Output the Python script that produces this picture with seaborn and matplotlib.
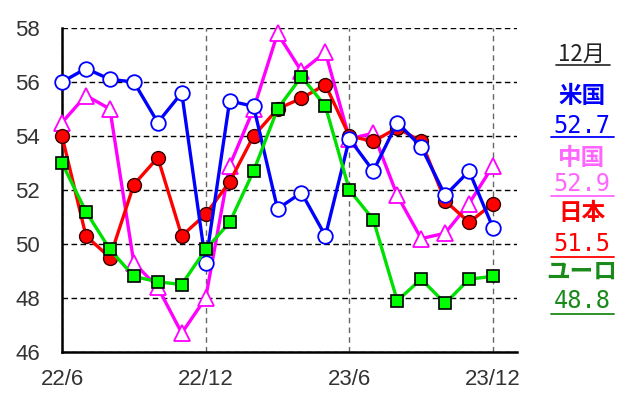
import matplotlib
matplotlib.use("Agg")
import matplotlib.pyplot as plt
from matplotlib.lines import Line2D
import seaborn as sns
import pandas as pd

# Monthly services PMI, 2022/6 .. 2023/12
months = list(range(19))
tick_pos = [0, 6, 12, 18]
tick_labels = ["22/6", "22/12", "23/6", "23/12"]

us = [56.0, 56.5, 56.1, 56.0, 54.5, 55.6, 49.3, 55.3, 55.1, 51.3, 51.9, 50.3,
      53.9, 52.7, 54.5, 53.6, 51.8, 52.7, 50.6]
cn = [54.5, 55.5, 55.0, 49.3, 48.4, 46.7, 48.0, 52.9, 55.0, 57.8, 56.4, 57.1,
      53.9, 54.1, 51.8, 50.2, 50.4, 51.5, 52.9]
jp = [54.0, 50.3, 49.5, 52.2, 53.2, 50.3, 51.1, 52.3, 54.0, 55.0, 55.4, 55.9,
      54.0, 53.8, 54.3, 53.8, 51.6, 50.8, 51.5]
eu = [53.0, 51.2, 49.8, 48.8, 48.6, 48.5, 49.8, 50.8, 52.7, 55.0, 56.2, 55.1,
      52.0, 50.9, 47.9, 48.7, 47.8, 48.7, 48.8]

side_title = "12月"
region_names = ["米国", "中国", "日本", "ユーロ"]
latest_values = ["52.7", "52.9", "51.5", "48.8"]

sns.set_style("white")
plt.rcParams["font.family"] = ["Liberation Sans", "Noto Sans CJK JP", "DejaVu Sans"]

W, H = 635, 393
fig = plt.figure(figsize=(W / 100, H / 100), dpi=100)
ax = fig.add_axes([62 / W, 1 - 352 / H, (517 - 62) / W, (352 - 28) / H])

df = pd.DataFrame({"m": months, "us": us, "cn": cn, "jp": jp, "eu": eu})

# draw order: China, Japan, US, Euro on top
sns.lineplot(data=df, x="m", y="cn", ax=ax, color="#ff00ff", lw=2.4,
             marker="^", markersize=11, markerfacecolor="white",
             markeredgecolor="#ff00ff", markeredgewidth=1.3, zorder=3, clip_on=False)
sns.lineplot(data=df, x="m", y="jp", ax=ax, color="#ff0000", lw=2.4,
             marker="o", markersize=10, markerfacecolor="#ff0000",
             markeredgecolor="#330000", markeredgewidth=1.0, zorder=4, clip_on=False)
sns.lineplot(data=df, x="m", y="us", ax=ax, color="#0000ff", lw=2.4,
             marker="o", markersize=10.5, markerfacecolor="white",
             markeredgecolor="#0000ff", markeredgewidth=1.3, zorder=5, clip_on=False)
sns.lineplot(data=df, x="m", y="eu", ax=ax, color="#00e000", lw=2.4,
             marker="s", markersize=9, markerfacecolor="#00ff00",
             markeredgecolor="black", markeredgewidth=1.2, zorder=6, clip_on=False)

ax.set_xlim(0, 19)
ax.set_ylim(46, 58)
ax.set_xticks(tick_pos)
ax.set_xticklabels(tick_labels)
ax.set_yticks(range(46, 59, 2))
ax.set_xlabel("")
ax.set_ylabel("")

ax.set_axisbelow(True)
ax.grid(axis="y", linestyle=(0, (4, 2.5)), color="black", lw=1.0)
ax.grid(axis="x", linestyle=(0, (4, 3)), color="#666666", lw=1.0)

for side in ("top", "right"):
    ax.spines[side].set_visible(False)
for side in ("left", "bottom"):
    ax.spines[side].set_color("black")
    ax.spines[side].set_linewidth(1.8)

ax.tick_params(axis="x", direction="in", length=6, width=1.5, color="black",
               labelsize=16, labelcolor="#333333", pad=12)
ax.tick_params(axis="y", length=0, labelsize=16, labelcolor="#333333", pad=16)

# side panel with the latest readings
def fx(px):
    return px / W

def fy(py):
    return 1 - py / H

mono = ["DejaVu Sans Mono", "Noto Sans CJK JP"]
cjk = ["Noto Sans CJK JP", "DejaVu Sans"]
cx = 582

fig.text(fx(cx), fy(54), side_title, ha="center", va="center", fontsize=16,
         color="#222222", family=cjk)
fig.add_artist(Line2D([fx(556), fx(610)], [fy(65), fy(65)], color="#222222", lw=1.2))

name_colors = ["#0000ff", "#ff66ff", "#ff0000", "#1a8a1a"]
value_colors = ["#0000ff", "#ff66ff", "#ff0000", "#1a8a1a"]
name_y = [96, 158, 213, 272]
value_y = [126, 184, 244, 301]
line_y = [137, 196, 257, 314]
for name, val, nc, vc, ny, vy, ly in zip(region_names, latest_values, name_colors,
                                         value_colors, name_y, value_y, line_y):
    fig.text(fx(cx), fy(ny), name, ha="center", va="center", fontsize=17,
             fontweight="bold", color=nc, family=cjk)
    fig.text(fx(cx), fy(vy), val, ha="center", va="center", fontsize=17,
             color=vc, family=mono)
    fig.add_artist(Line2D([fx(551), fx(614)], [fy(ly), fy(ly)], color=vc, lw=1.3))

fig.savefig("out.png", dpi=100)
